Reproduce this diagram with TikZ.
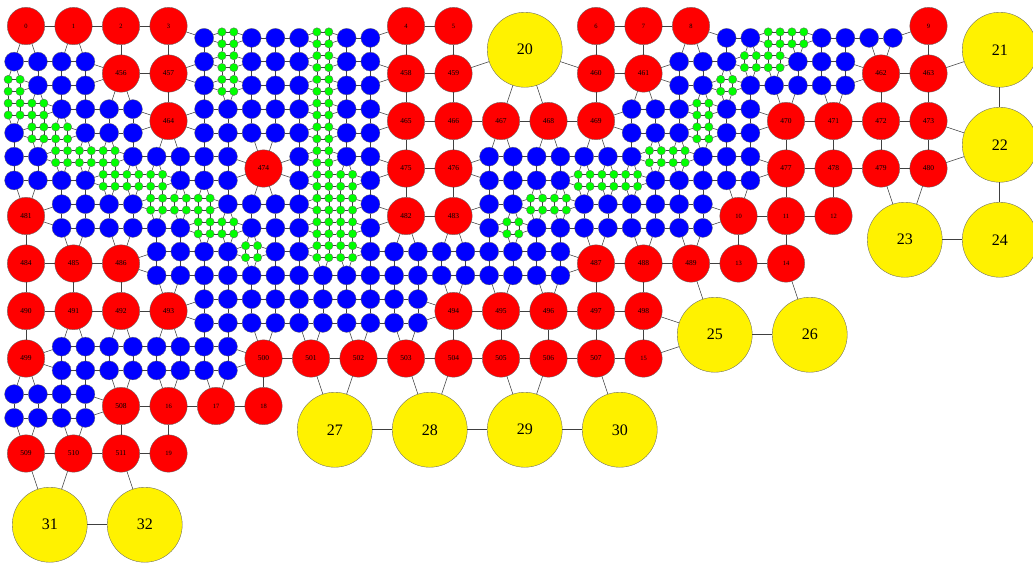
\documentclass[tikz,border=0pt]{standalone}
\usepackage{fontspec}
\setmainfont{Liberation Serif}
\tikzset{
  nodebase/.style={circle, draw=black!60, line width=0.35pt, inner sep=0pt, outer sep=0pt},
  rednode/.style={nodebase, fill=red, minimum size=37.4pt, font=\fontsize{7.5}{8}\selectfont},
  redsmall/.style={rednode, font=\fontsize{6.5}{7}\selectfont},
  bluenode/.style={nodebase, fill=blue, minimum size=19pt},
  greennode/.style={nodebase, fill=green, minimum size=8.4pt},
  yellownode/.style={nodebase, fill=yellow, minimum size=75pt, font=\fontsize{16}{18}\selectfont},
  link/.style={draw=black!75, line width=0.55pt},
}
\ExplSyntaxOn
\seq_new:N \g_my_half_seq
\seq_new:N \g_my_red_seq
\seq_new:N \l_my_row_seq
\tl_new:N \l_my_a_tl
\tl_new:N \l_my_c_tl
\tl_new:N \l_my_hx_tl
\tl_new:N \l_my_hy_tl
\tl_new:N \l_my_fx_tl
\tl_new:N \l_my_fy_tl
\tl_new:N \l_my_hxx_tl
\tl_new:N \l_my_hyy_tl
\bool_new:N \l_my_skip_bool

% half-cell map: 24 rows, 22 cells of 2 half-cells each
\seq_gset_split:Nnn \g_my_half_seq { , }
{
 rr rr rr rr .. .. .. .. rr rr yy yy rr rr rr .. .. .. .. rr yy yy ,
 rr rr rr rr bg bb bg bb rr rr yy yy rr rr rr bb gg bb bb rr yy yy ,
 bb bb rr rr bg bb bg bb rr rr yy yy rr rr bb bg gb bb rr rr yy yy ,
 gb bb rr rr bg bb bg bb rr rr yy yy rr rr bb gb bb bb rr rr yy yy ,
 gg bb bb rr bb bb bg bb rr rr rr rr rr bb bg bb rr rr rr rr yy yy ,
 bg gb bb rr bb bb bg bb rr rr rr rr rr bb bg bb rr rr rr rr yy yy ,
 bb gg gb bb bb rr bg bb rr rr bb bb bb bg gb bb rr rr rr rr yy yy ,
 bb bb gg gb bb rr bg gb rr rr bb bb gg gb bb bb rr rr rr rr yy yy ,
 rr bb bb gg gb bb bg gb rr rr bb gg bb bb bb rr rr rr yy yy yy yy ,
 rr bb bb bb gg bb bg gb rr rr bg bb bb bb bb rr rr rr yy yy yy yy ,
 rr rr rr bb bb gb bg gb bb bb bb bb rr rr rr rr rr .. yy yy yy yy ,
 rr rr rr bb bb bb bb bb bb bb bb bb rr rr rr rr rr .. yy yy yy yy ,
 rr rr rr rr bb bb bb bb bb rr rr rr rr rr yy yy yy yy .. .. .. .. ,
 rr rr rr rr bb bb bb bb bb rr rr rr rr rr yy yy yy yy .. .. .. .. ,
 rr bb bb bb bb rr rr rr rr rr rr rr rr rr yy yy yy yy .. .. .. .. ,
 rr bb bb bb bb rr rr rr rr rr rr rr rr rr yy yy yy yy .. .. .. .. ,
 bb bb rr rr rr rr yy yy yy yy yy yy yy yy .. .. .. .. .. .. .. .. ,
 bb bb rr rr rr rr yy yy yy yy yy yy yy yy .. .. .. .. .. .. .. .. ,
 rr rr rr rr .. .. yy yy yy yy yy yy yy yy .. .. .. .. .. .. .. .. ,
 rr rr rr rr .. .. yy yy yy yy yy yy yy yy .. .. .. .. .. .. .. .. ,
 yy yy yy yy .. .. .. .. .. .. .. .. .. .. .. .. .. .. .. .. .. .. ,
 yy yy yy yy .. .. .. .. .. .. .. .. .. .. .. .. .. .. .. .. .. .. ,
 yy yy yy yy .. .. .. .. .. .. .. .. .. .. .. .. .. .. .. .. .. .. ,
 yy yy yy yy .. .. .. .. .. .. .. .. .. .. .. .. .. .. .. .. .. ..
}

% red labels per cell: 12 rows x 22 cells
\seq_gset_split:Nnn \g_my_red_seq { , }
{
 0/1/2/3/-/-/-/-/4/5/-/-/6/7/8/-/-/-/-/9/-/- ,
 -/-/456/457/-/-/-/-/458/459/-/-/460/461/-/-/-/-/462/463/-/- ,
 -/-/-/464/-/-/-/-/465/466/467/468/469/-/-/-/470/471/472/473/-/- ,
 -/-/-/-/-/474/-/-/475/476/-/-/-/-/-/-/477/478/479/480/-/- ,
 481/-/-/-/-/-/-/-/482/483/-/-/-/-/-/10/11/12/-/-/-/- ,
 484/485/486/-/-/-/-/-/-/-/-/-/487/488/489/13/14/-/-/-/-/- ,
 490/491/492/493/-/-/-/-/-/494/495/496/497/498/-/-/-/-/-/-/-/- ,
 499/-/-/-/-/500/501/502/503/504/505/506/507/15/-/-/-/-/-/-/-/- ,
 -/-/508/16/17/18/-/-/-/-/-/-/-/-/-/-/-/-/-/-/-/- ,
 509/510/511/19/-/-/-/-/-/-/-/-/-/-/-/-/-/-/-/-/-/- ,
 -/-/-/-/-/-/-/-/-/-/-/-/-/-/-/-/-/-/-/-/-/- ,
 -/-/-/-/-/-/-/-/-/-/-/-/-/-/-/-/-/-/-/-/-/-
}

\cs_new_protected:Npn \my_setup:
{
  \int_step_variable:nnNn {0} {23} \l_my_hy_tl
  {
    \tl_set:Nx \l_my_c_tl { \seq_item:Nn \g_my_half_seq { \l_my_hy_tl + 1 } }
    \int_step_variable:nnNn {0} {43} \l_my_hx_tl
    {
      \tl_gset:cx { g_my_h_ \l_my_hx_tl _ \l_my_hy_tl _tl }
        { \tl_item:Nn \l_my_c_tl { \l_my_hx_tl + 1 } }
    }
  }
  \int_step_variable:nnNn {0} {11} \l_my_hy_tl
  {
    \tl_set:Nx \l_my_c_tl { \seq_item:Nn \g_my_red_seq { \l_my_hy_tl + 1 } }
    \seq_set_split:NnV \l_my_row_seq { / } \l_my_c_tl
    \int_step_variable:nnNn {0} {21} \l_my_hx_tl
    {
      \tl_gset:cx { g_my_c_ \l_my_hx_tl _ \l_my_hy_tl _tl }
        { \seq_item:Nn \l_my_row_seq { \l_my_hx_tl + 1 } }
    }
  }
  \int_step_variable:nnNn {0} {87} \l_my_fx_tl
  {
    \int_step_variable:nnNn {0} {47} \l_my_fy_tl
    {
      \tl_set:Nx \l_my_hxx_tl { \int_div_truncate:nn { \l_my_fx_tl } { 2 } }
      \tl_set:Nx \l_my_hyy_tl { \int_div_truncate:nn { \l_my_fy_tl } { 2 } }
      \tl_set_eq:Nc \l_my_c_tl { g_my_h_ \l_my_hxx_tl _ \l_my_hyy_tl _tl }
      \tl_gset:cn { g_my_f_ \l_my_fx_tl _ \l_my_fy_tl _tl } { }
      \str_if_eq:VnT \l_my_c_tl { b }
        { \tl_gset:cx { g_my_f_ \l_my_fx_tl _ \l_my_fy_tl _tl } { b - \l_my_hxx_tl - \l_my_hyy_tl } }
      \str_if_eq:VnT \l_my_c_tl { g }
        { \tl_gset:cx { g_my_f_ \l_my_fx_tl _ \l_my_fy_tl _tl } { g - \l_my_fx_tl - \l_my_fy_tl } }
      \str_if_eq:VnT \l_my_c_tl { r }
        {
          \tl_set_eq:Nc \l_my_a_tl
            { g_my_c_ \int_div_truncate:nn { \l_my_fx_tl } { 4 } _ \int_div_truncate:nn { \l_my_fy_tl } { 4 } _tl }
          \str_if_eq:VnF \l_my_a_tl { - }
            {
              \tl_if_blank:VF \l_my_a_tl
                { \tl_gset:cx { g_my_f_ \l_my_fx_tl _ \l_my_fy_tl _tl } { r \l_my_a_tl } }
            }
        }
    }
  }
}
\my_setup:

\cs_new_protected:Npn \my_draw:nn #1#2 { \draw [link] (#1) -- (#2) ; }
\cs_new_protected:Npn \my_try:NNNN #1#2#3#4
{
  \tl_if_empty:NF #1
  {
    \tl_if_empty:NF #2
    {
      \tl_if_eq:NNF #1 #2
      {
        \bool_set_false:N \l_my_skip_bool
        \tl_if_eq:NNT #3 #1 { \tl_if_eq:NNT #4 #2 { \bool_set_true:N \l_my_skip_bool } }
        \bool_if:NF \l_my_skip_bool { \exp_args:NVV \my_draw:nn #1 #2 }
      }
    }
  }
}
\cs_generate_variant:Nn \my_try:NNNN { cccc }

\cs_new_protected:Npn \my_bnode:nn #1#2
{
  \use:x { \exp_not:N \node [bluenode] (b-#1-#2) at
     ( \fp_eval:n { 14.125 + 23.75 * #1 } , \fp_eval:n { 14.125 + 23.75 * #2 } ) { } ; }
}
\cs_generate_variant:Nn \my_bnode:nn { VV }
\cs_new_protected:Npn \my_gnode:nn #1#2
{
  \use:x { \exp_not:N \node [greennode] (g-#1-#2) at
     ( \fp_eval:n { 8.1875 + 11.875 * #1 } , \fp_eval:n { 8.1875 + 11.875 * #2 } ) { } ; }
}
\cs_generate_variant:Nn \my_gnode:nn { xx }
\cs_new_protected:Npn \my_rnode:nnn #1#2#3
{
  \use:x { \exp_not:N \node
     [ \int_compare:nNnTF { \tl_count:n {#3} } < { 3 } { redsmall } { rednode } ]
     (r#3) at ( \fp_eval:n { 26 + 47.5 * #1 } , \fp_eval:n { 26 + 47.5 * #2 } ) {#3} ; }
}
\cs_generate_variant:Nn \my_rnode:nnn { VVV }

\cs_new_protected:Npn \my_nodes:
{
  \int_step_variable:nnNn {0} {23} \l_my_hy_tl
  {
    \int_step_variable:nnNn {0} {43} \l_my_hx_tl
    {
      \tl_set_eq:Nc \l_my_c_tl { g_my_h_ \l_my_hx_tl _ \l_my_hy_tl _tl }
      \str_if_eq:VnT \l_my_c_tl { b } { \my_bnode:VV \l_my_hx_tl \l_my_hy_tl }
      \str_if_eq:VnT \l_my_c_tl { g }
      {
        \my_gnode:xx { \int_eval:n { 2 * \l_my_hx_tl } } { \int_eval:n { 2 * \l_my_hy_tl } }
        \my_gnode:xx { \int_eval:n { 2 * \l_my_hx_tl + 1 } } { \int_eval:n { 2 * \l_my_hy_tl } }
        \my_gnode:xx { \int_eval:n { 2 * \l_my_hx_tl } } { \int_eval:n { 2 * \l_my_hy_tl + 1 } }
        \my_gnode:xx { \int_eval:n { 2 * \l_my_hx_tl + 1 } } { \int_eval:n { 2 * \l_my_hy_tl + 1 } }
      }
    }
  }
  \int_step_variable:nnNn {0} {11} \l_my_hy_tl
  {
    \int_step_variable:nnNn {0} {21} \l_my_hx_tl
    {
      \tl_set_eq:Nc \l_my_a_tl { g_my_c_ \l_my_hx_tl _ \l_my_hy_tl _tl }
      \str_if_eq:VnF \l_my_a_tl { - }
      { \tl_if_blank:VF \l_my_a_tl { \my_rnode:VVV \l_my_hx_tl \l_my_hy_tl \l_my_a_tl } }
    }
  }
}

\cs_new_protected:Npn \my_edges:
{
  \int_step_variable:nnNn {0} {87} \l_my_fx_tl
  {
    \int_step_variable:nnNn {0} {47} \l_my_fy_tl
    {
      \int_compare:nNnT { \l_my_fx_tl } < { 87 }
      {
        \my_try:cccc
          { g_my_f_ \l_my_fx_tl _ \l_my_fy_tl _tl }
          { g_my_f_ \int_eval:n { \l_my_fx_tl + 1 } _ \l_my_fy_tl _tl }
          { g_my_f_ \l_my_fx_tl _ \int_eval:n { \l_my_fy_tl - 1 } _tl }
          { g_my_f_ \int_eval:n { \l_my_fx_tl + 1 } _ \int_eval:n { \l_my_fy_tl - 1 } _tl }
      }
      \int_compare:nNnT { \l_my_fy_tl } < { 47 }
      {
        \my_try:cccc
          { g_my_f_ \l_my_fx_tl _ \l_my_fy_tl _tl }
          { g_my_f_ \l_my_fx_tl _ \int_eval:n { \l_my_fy_tl + 1 } _tl }
          { g_my_f_ \int_eval:n { \l_my_fx_tl - 1 } _ \l_my_fy_tl _tl }
          { g_my_f_ \int_eval:n { \l_my_fx_tl - 1 } _ \int_eval:n { \l_my_fy_tl + 1 } _tl }
      }
    }
  }
}
\cs_new_protected:Npn \MyGridNodes { \my_nodes: }
\cs_new_protected:Npn \MyGridEdges { \my_edges: }
\ExplSyntaxOff

\begin{document}
\begin{tikzpicture}[x=1pt,y=-1pt]
\useasboundingbox (0,0) rectangle (1033,563);
\MyGridNodes
\node[yellownode] (y20) at (524.75,49.75) {20};
\node[yellownode] (y21) at (999.75,49.75) {21};
\node[yellownode] (y22) at (999.75,144.75) {22};
\node[yellownode] (y23) at (904.75,239.75) {23};
\node[yellownode] (y24) at (999.75,239.75) {24};
\node[yellownode] (y25) at (714.75,334.75) {25};
\node[yellownode] (y26) at (809.75,334.75) {26};
\node[yellownode] (y27) at (334.75,429.75) {27};
\node[yellownode] (y28) at (429.75,429.75) {28};
\node[yellownode] (y29) at (524.75,429.75) {29};
\node[yellownode] (y30) at (619.75,429.75) {30};
\node[yellownode] (y31) at (49.75,524.75) {31};
\node[yellownode] (y32) at (144.75,524.75) {32};
\MyGridEdges
\foreach \a/\b in {y20/r459, y20/r460, y20/r467, y20/r468,
  y21/r463, y21/y22, y22/r473, y22/r480, y22/y24,
  y23/r479, y23/r480, y23/y24,
  y25/r489, y25/r498, y25/r15, y25/y26, y26/r14,
  y27/r501, y27/r502, y27/y28, y28/r503, y28/r504, y28/y29,
  y29/r505, y29/r506, y29/y30, y30/r507,
  y31/r509, y31/r510, y31/y32, y32/r511}
  \draw[link] (\a) -- (\b);
\end{tikzpicture}
\end{document}
